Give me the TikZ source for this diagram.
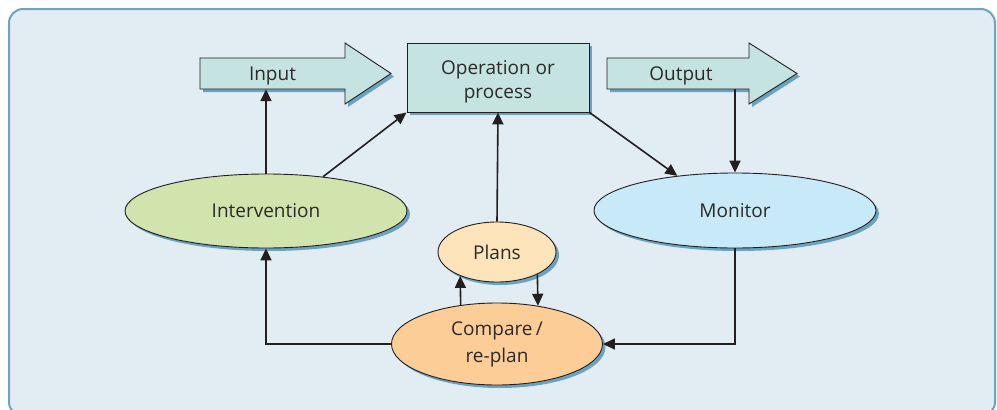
\documentclass[tikz,border=0pt]{standalone}
\usepackage{fontspec}
\setmainfont{Open Sans}
\usetikzlibrary{arrows.meta,shapes.geometric,shadows,calc}
\definecolor{panel}{HTML}{E1ECF3}
\definecolor{rim}{HTML}{6BA5C2}
\definecolor{shadowblue}{HTML}{6AA3C0}
\definecolor{ink}{HTML}{231F20}
\definecolor{txt}{HTML}{2A2A2A}
\definecolor{boxfill}{HTML}{C5E3E0}
\definecolor{intfill}{HTML}{D2E4AE}
\definecolor{monfill}{HTML}{C8E9F8}
\definecolor{planfill}{HTML}{FDE4BA}
\definecolor{cmpfill}{HTML}{FDCD98}

\begin{document}
\begin{tikzpicture}[x=1pt,y=-1pt,font=\fontsize{19}{24}\selectfont,
  shade/.style={drop shadow={shadow xshift=3pt,shadow yshift=-3pt,fill=shadowblue,opacity=1}},
  blob/.style={ellipse,draw=ink,line width=0.9pt,inner sep=0pt,shade,text=txt},
  bigarrow/.style={draw=ink,fill=boxfill,line width=0.9pt,shade},
  label/.style={inner sep=0pt,text=txt},
  flow/.style={draw=ink,line width=1.6pt,-{Triangle[length=12pt,width=11pt]}}]
\useasboundingbox (0,0) rectangle (997,410);
\fill[white] (0,0) rectangle (997,410);
\draw[rim,fill=panel,line width=2pt,rounded corners=14pt] (9,9) rectangle (995,416);

% wide arrows
\draw[bigarrow] (200,58) -- (345,58) -- (345,43) -- (391,73.5) -- (345,104) -- (345,89) -- (200,89) -- cycle;
\node[label,minimum width=145pt,minimum height=27pt] (input) at (272.5,75.5) {Input};
\draw[bigarrow] (607,58) -- (749,58) -- (749,43) -- (797,73.5) -- (749,104) -- (749,89) -- (607,89) -- cycle;
\node[label,minimum width=142pt,minimum height=27pt] (output) at (681,75.5) {Output};

% process box
\node[draw=ink,fill=boxfill,line width=0.9pt,shade,text=txt,
  minimum width=182pt,minimum height=69pt] (op) at (498,77.5)
  {\raisebox{-4pt}[\height][\depth]{\begin{tabular}{@{}c@{}}Operation or\\process\end{tabular}}};

% ellipses
\node[blob,fill=intfill,minimum width=282pt,minimum height=74pt] (interv) at (266,211) {Intervention};
\node[blob,fill=monfill,minimum width=282pt,minimum height=75pt] (monitor) at (735,210.5) {Monitor};
\node[blob,fill=planfill,minimum width=118pt,minimum height=60pt] (plans) at (497,252) {Plans};
\node[blob,fill=cmpfill,align=center,minimum width=211pt,minimum height=82pt,
  font=\fontsize{19}{27}\selectfont] (compare) at (497,344) {Compare\,/\\re-plan};

% connectors
\draw[flow] (interv.north) -- (interv.north |- input.south);
\draw[flow] (interv.31) -- (op.south west);
\draw[flow] (plans.north) -- (op.south);
\draw[flow] (op.south east) -- (monitor.149);
\draw[flow] (output.south -| monitor.north) -- (monitor.north);
\draw[flow] (monitor.south) |- (compare.east);
\draw[flow] (compare.west) -| (interv.south);
\draw[flow] (compare.133) -- (plans.213.5);
\draw[flow] (plans.331.2) -- (compare.43.5);
\end{tikzpicture}
\end{document}
